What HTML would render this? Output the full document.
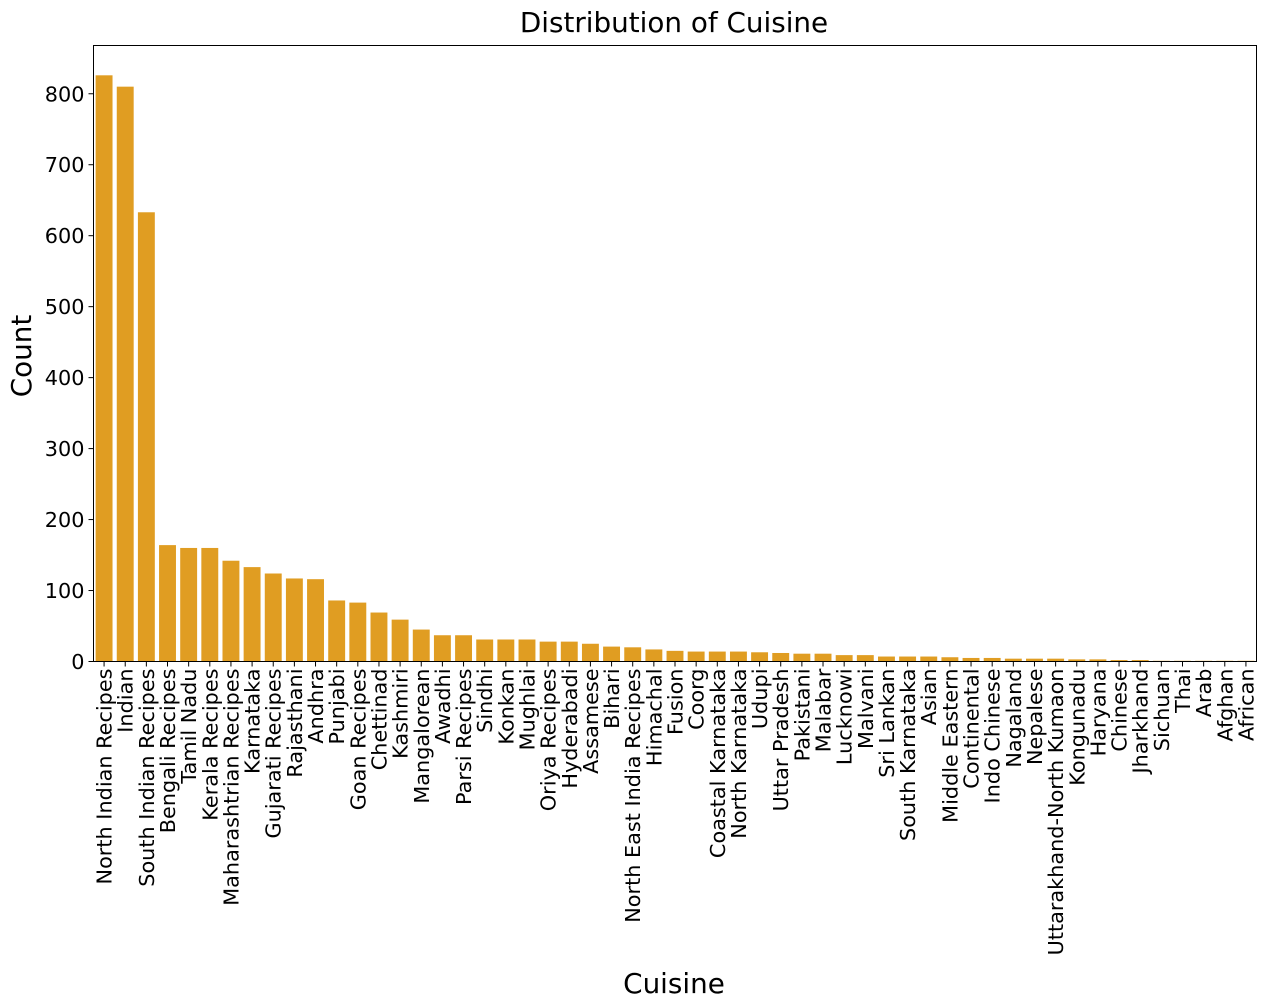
<!DOCTYPE html>
<html><head><meta charset="utf-8"><style>
html,body{margin:0;padding:0;background:#fff}
svg{display:block;font-family:"DejaVu Sans","Liberation Sans",sans-serif}
</style></head><body>
<svg id="chart" width="1265" height="1008" xmlns="http://www.w3.org/2000/svg">
<text x="674" y="32" font-size="27.8" text-anchor="middle">Distribution of Cuisine</text>
<text transform="translate(31,356) rotate(-90)" font-size="27.8" text-anchor="middle">Count</text>
<text x="674" y="993" font-size="27.8" text-anchor="middle">Cuisine</text>
<g id="bars"></g>
<g id="yticks"></g>
<g id="xticks"></g>
<rect x="93.5" y="45.5" width="1163" height="616" fill="none" stroke="#000" stroke-width="1"/>
</svg>
<script>
const categories = ["North Indian Recipes","Indian","South Indian Recipes","Bengali Recipes","Tamil Nadu","Kerala Recipes","Maharashtrian Recipes","Karnataka","Gujarati Recipes","Rajasthani","Andhra","Punjabi","Goan Recipes","Chettinad","Kashmiri","Mangalorean","Awadhi","Parsi Recipes","Sindhi","Konkan","Mughlai","Oriya Recipes","Hyderabadi","Assamese","Bihari","North East India Recipes","Himachal","Fusion","Coorg","Coastal Karnataka","North Karnataka","Udupi","Uttar Pradesh","Pakistani","Malabar","Lucknowi","Malvani","Sri Lankan","South Karnataka","Asian","Middle Eastern","Continental","Indo Chinese","Nagaland","Nepalese","Uttarakhand-North Kumaon","Kongunadu","Haryana","Chinese","Jharkhand","Sichuan","Thai","Arab","Afghan","African"];
const counts = [826,810,633,164,160,160,142,133,124,117,116,86,83,69,59,45,37,37,31,31,31,28,28,25,21,20,17,15,14,14,14,13,12,11,11,9,9,7,7,7,6,5,5,4,4,4,3,3,2,2,1,1,1,1,1];
const yTicks = [0,100,200,300,400,500,600,700,800];

const NS="http://www.w3.org/2000/svg";
const plotLeft=93.5,plotRight=1256.5,plotTop=45.5,plotBottom=661.5,yMax=868;
const slot=(plotRight-plotLeft)/categories.length;
const xs=i=>plotLeft+slot*(i+0.5);
const ys=v=>plotBottom-(v/yMax)*(plotBottom-plotTop);
const bars=document.getElementById('bars'),yt=document.getElementById('yticks'),xt=document.getElementById('xticks');
counts.forEach((v,i)=>{
  const r=document.createElementNS(NS,'rect');
  
  
  r.setAttribute('x',xs(i)-slot*0.4);r.setAttribute('width',slot*0.8);
  r.setAttribute('y',ys(v));r.setAttribute('height',plotBottom-ys(v));
  r.setAttribute('fill','#e09d22');
  bars.appendChild(r);
  const l=document.createElementNS(NS,'line');
  
  
  l.setAttribute('x1',xs(i));l.setAttribute('x2',xs(i));l.setAttribute('y1',plotBottom);l.setAttribute('y2',plotBottom+5);l.setAttribute('stroke','#000');
  xt.appendChild(l);
  const t=document.createElementNS(NS,'text');
  
  
  t.setAttribute('transform','translate('+(xs(i)+7.5)+','+(plotBottom+7)+') rotate(-90)');
  t.setAttribute('text-anchor','end');t.setAttribute('font-size','20.8');
  t.textContent=categories[i];
  xt.appendChild(t);
});
yTicks.forEach(v=>{
  const l=document.createElementNS(NS,'line');
  
  
  l.setAttribute('x1',plotLeft-5);l.setAttribute('x2',plotLeft);l.setAttribute('y1',ys(v));l.setAttribute('y2',ys(v));l.setAttribute('stroke','#000');
  yt.appendChild(l);
  const t=document.createElementNS(NS,'text');
  
  
  t.setAttribute('x',plotLeft-9);t.setAttribute('y',ys(v)+7.5);t.setAttribute('text-anchor','end');t.setAttribute('font-size','20.8');
  t.textContent=v;
  yt.appendChild(t);
});
</script>
</body></html>
